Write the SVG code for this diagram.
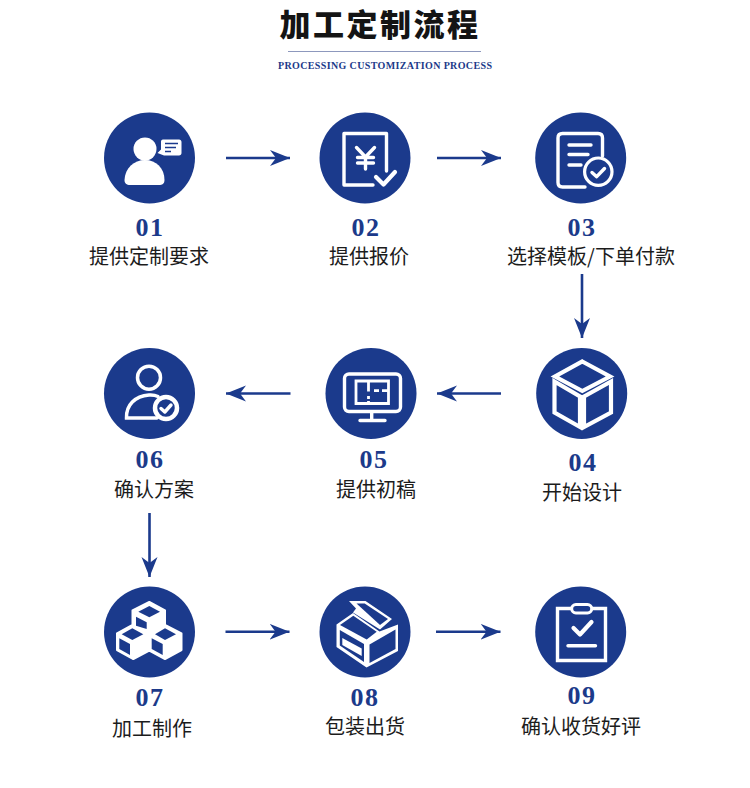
<svg xmlns="http://www.w3.org/2000/svg" width="750" height="788" viewBox="0 0 750 788">
<style>
text{text-anchor:middle}
.t{font-family:"Noto Sans CJK SC","Noto Sans",sans-serif;font-size:31px;font-weight:900;fill:#141414;letter-spacing:2.500px}
.s{font-family:"Liberation Serif",serif;font-size:10px;font-weight:700;fill:#1c3a8a}
.n{font-family:"Liberation Serif",serif;font-size:26px;font-weight:700;fill:#1c3a8a;letter-spacing:1.500px}
.l{font-family:"Noto Sans CJK SC","Noto Sans",sans-serif;font-size:20px;fill:#1c1c1c}
.c{fill:#1b3a8c}
.w{fill:#fff}
.o{fill:none;stroke:#fff;stroke-width:3.400;stroke-linecap:round;stroke-linejoin:round}
.oj{fill:none;stroke:#fff;stroke-width:3.400;stroke-linejoin:miter}
.thick{stroke-width:4.200}
.thin{stroke-width:2.800}
.b{fill:#1b3a8c}
.bl{fill:none;stroke:#1b3a8c;stroke-width:1.600}
.a{fill:none;stroke:#1b3a8c;stroke-width:2.600;marker-end:url(#h)}
</style>
<defs>
<marker id="h" markerUnits="userSpaceOnUse" markerWidth="22" markerHeight="18" refX="20" refY="9" orient="auto">
<path d="M0 1 L20 9 L0 17 L6 9Z" fill="#1b3a8c"/>
</marker>
</defs>
<rect width="750" height="788" fill="#fff"/>
<g id="header">
<text class="t" x="380" y="36">加工定制流程</text>
<line x1="288" y1="51.500" x2="481" y2="51.500" stroke="#8d98bd" stroke-width="1"/>
<text class="s" x="385" y="69" textLength="214" lengthAdjust="spacing">PROCESSING CUSTOMIZATION PROCESS</text>
</g>
<g id="connectors">
<path class="a" d="M226 158H290"/>
<path class="a" d="M437 158H501"/>
<path class="a" d="M582 274V338"/>
<path class="a" d="M501 393.500H437"/>
<path class="a" d="M290.500 393.500H226"/>
<path class="a" d="M149.500 513V577"/>
<path class="a" d="M225.500 631.700H289.500"/>
<path class="a" d="M436 631.700H500.500"/>
</g>
<g id="n01">
<circle class="c" cx="149.500" cy="158" r="45.500"/>
<circle class="w" cx="145" cy="149" r="11.500"/>
<path class="w" d="M124.500 180C125 168 134 160 145 160C156 160 164.500 168 164.500 180C164.500 184 162 185 159 185H130C126.500 185 124.500 183.500 124.500 180Z"/>
<path class="w" d="M163 139.500H179C180.500 139.500 181.500 140.500 181.500 142V153C181.500 154.500 180.500 155.500 179 155.500H164L157.500 153L161 149.500V142C161 140.500 161.500 139.500 163 139.500Z"/>
<path class="bl" d="M165 143.500H178M165 147.500H176M165 151.500H171"/>
<text class="n" x="150" y="236">01</text>
<text class="l" x="149" y="263.500">提供定制要求</text>
</g>
<g id="n02">
<circle class="c" cx="365" cy="158" r="45.500"/>
<path class="o" d="M373 185H344V133.500H386.500V171"/>
<path class="o" d="M356.500 147.500L365.500 157L374.500 147.500M365.500 157V169M357.500 157.500H373.500M357.500 163H373.500"/>
<path class="o thick" d="M376 177L383.500 184.500L395 172"/>
<text class="n" x="366" y="236">02</text>
<text class="l" x="369" y="263.500">提供报价</text>
</g>
<g id="n03">
<circle class="c" cx="580.700" cy="158" r="45.500"/>
<path class="o" d="M585 187H562.500C559.500 187 558 185.500 558 182.500V138C558 135 559.500 133.500 562.500 133.500H598C601 133.500 602.500 135 602.500 138V156"/>
<path class="o" d="M569 145H591M569 154.500H588M569 165H581"/>
<circle cx="598.300" cy="171.700" r="13.700" fill="#1b3a8c" stroke="#fff" stroke-width="3.200"/>
<path class="o" d="M592 172.500L596.700 176.700L604.500 168.500"/>
<text class="n" x="582" y="236">03</text>
<text class="l" x="591" y="263.500">选择模板/下单付款</text>
</g>
<g id="n04">
<circle class="c" cx="581.700" cy="393.500" r="45.500"/>
<path class="oj thick" d="M582.300 361.500L610 376.500L582.300 391L555 376.500Z"/>
<path class="oj thick" d="M554.500 381.500L580 396.500V427L554.500 412.500Z"/>
<path class="oj thick" d="M584 396.500L611 381.500V412.500L584 427Z"/>
<text class="n" x="583" y="471">04</text>
<text class="l" x="582" y="499.500">开始设计</text>
</g>
<g id="n05">
<circle class="c" cx="371" cy="393.500" r="45.500"/>
<rect x="344.500" y="374" width="56" height="37.500" rx="4.500" fill="none" stroke="#fff" stroke-width="3.400"/>
<path class="o" d="M371.700 412V420M360 420.500H385"/>
<path class="oj thin" d="M356 381H388.500V403.500H356Z"/>
<path class="oj thin" d="M368.500 381V391.500M368.500 396V399M368.500 401V403.500M374 390.700H379M382 390.700H388.500"/>
<text class="n" x="374" y="468">05</text>
<text class="l" x="376" y="496.500">提供初稿</text>
</g>
<g id="n06">
<circle class="c" cx="149.500" cy="393.500" r="45.500"/>
<circle cx="149" cy="377.700" r="11.500" fill="none" stroke="#fff" stroke-width="3.500"/>
<path d="M157 418H126.500C126 405 135 396 149 395C152 394.800 156 395.500 158 396.500" fill="none" stroke="#fff" stroke-width="3.500" stroke-linecap="round"/>
<circle cx="166" cy="408" r="11" fill="#1b3a8c" stroke="#fff" stroke-width="4.500"/>
<path class="o" d="M161 408.500L164.800 412L171 405"/>
<text class="n" x="150" y="468">06</text>
<text class="l" x="154" y="496.500">确认方案</text>
</g>
<g id="n07">
<circle class="c" cx="149.500" cy="632" r="45.500"/>
<path class="w" stroke="#fff" stroke-width="2" stroke-linejoin="round" d="M149.300 602L165 610.500V625L181.500 633.500V650L165 659L149.300 650.500L133.300 659L117 650V633.500L132.500 625V610.500Z"/>
<path class="b" d="M149.300 606L160 611.700L149.300 617.300L138.300 611.700Z"/>
<path class="b" d="M136 616.700L146.700 622.300V629L136 625.700Z"/>
<path class="b" d="M132.300 628.300L143.300 634.300L132.300 640L121.700 634.300Z"/>
<path class="b" d="M119.300 638.300L130 644V655L119.300 649Z"/>
<path class="b" d="M165 628.300L176 634.300L165 640L155 634.300Z"/>
<path class="b" d="M151.700 638.300L162.700 644V655L151.700 649Z"/>
<text class="n" x="150" y="706">07</text>
<text class="l" x="152" y="735.500">加工制作</text>
</g>
<g id="n08">
<circle class="c" cx="365" cy="632" r="45.500"/>
<path class="w" d="M349 601H365.500L392 619L380 629.500L353 612.500L356 608.500Z"/>
<path class="b" d="M356.500 603.500H364.700L388 619L380 625Z"/>
<path class="w" d="M336.500 624.500L353 613L379.500 631.500L398 624.500V651L366.500 667.500L336.500 647Z"/>
<path class="b" d="M340 625L353.300 615.700L376.700 631.700L366.700 639.500Z"/>
<path class="b" d="M369.500 644.500L395.500 629.500V649L369.500 663Z"/>
<path class="b" d="M339.800 630L364 644V662L339.800 645.500Z"/>
<path class="w" d="M342.300 638L361.700 648.500V656L342.300 645Z"/>
<text class="n" x="365" y="706">08</text>
<text class="l" x="365" y="733.500">包装出货</text>
</g>
<g id="n09">
<circle class="c" cx="580.700" cy="632" r="45.500"/>
<path class="oj" d="M571 608.500H557.500V660.500H605.500V608.500H591"/>
<rect x="571.700" y="604.500" width="20" height="8.500" rx="4.200" fill="#1b3a8c" stroke="#fff" stroke-width="3"/>
<path class="o thick" d="M573.500 628L580 634.500L591.500 622"/>
<path class="o" d="M568 645.700H595.500"/>
<text class="n" x="582" y="704">09</text>
<text class="l" x="581" y="733.500">确认收货好评</text>
</g>
</svg>
